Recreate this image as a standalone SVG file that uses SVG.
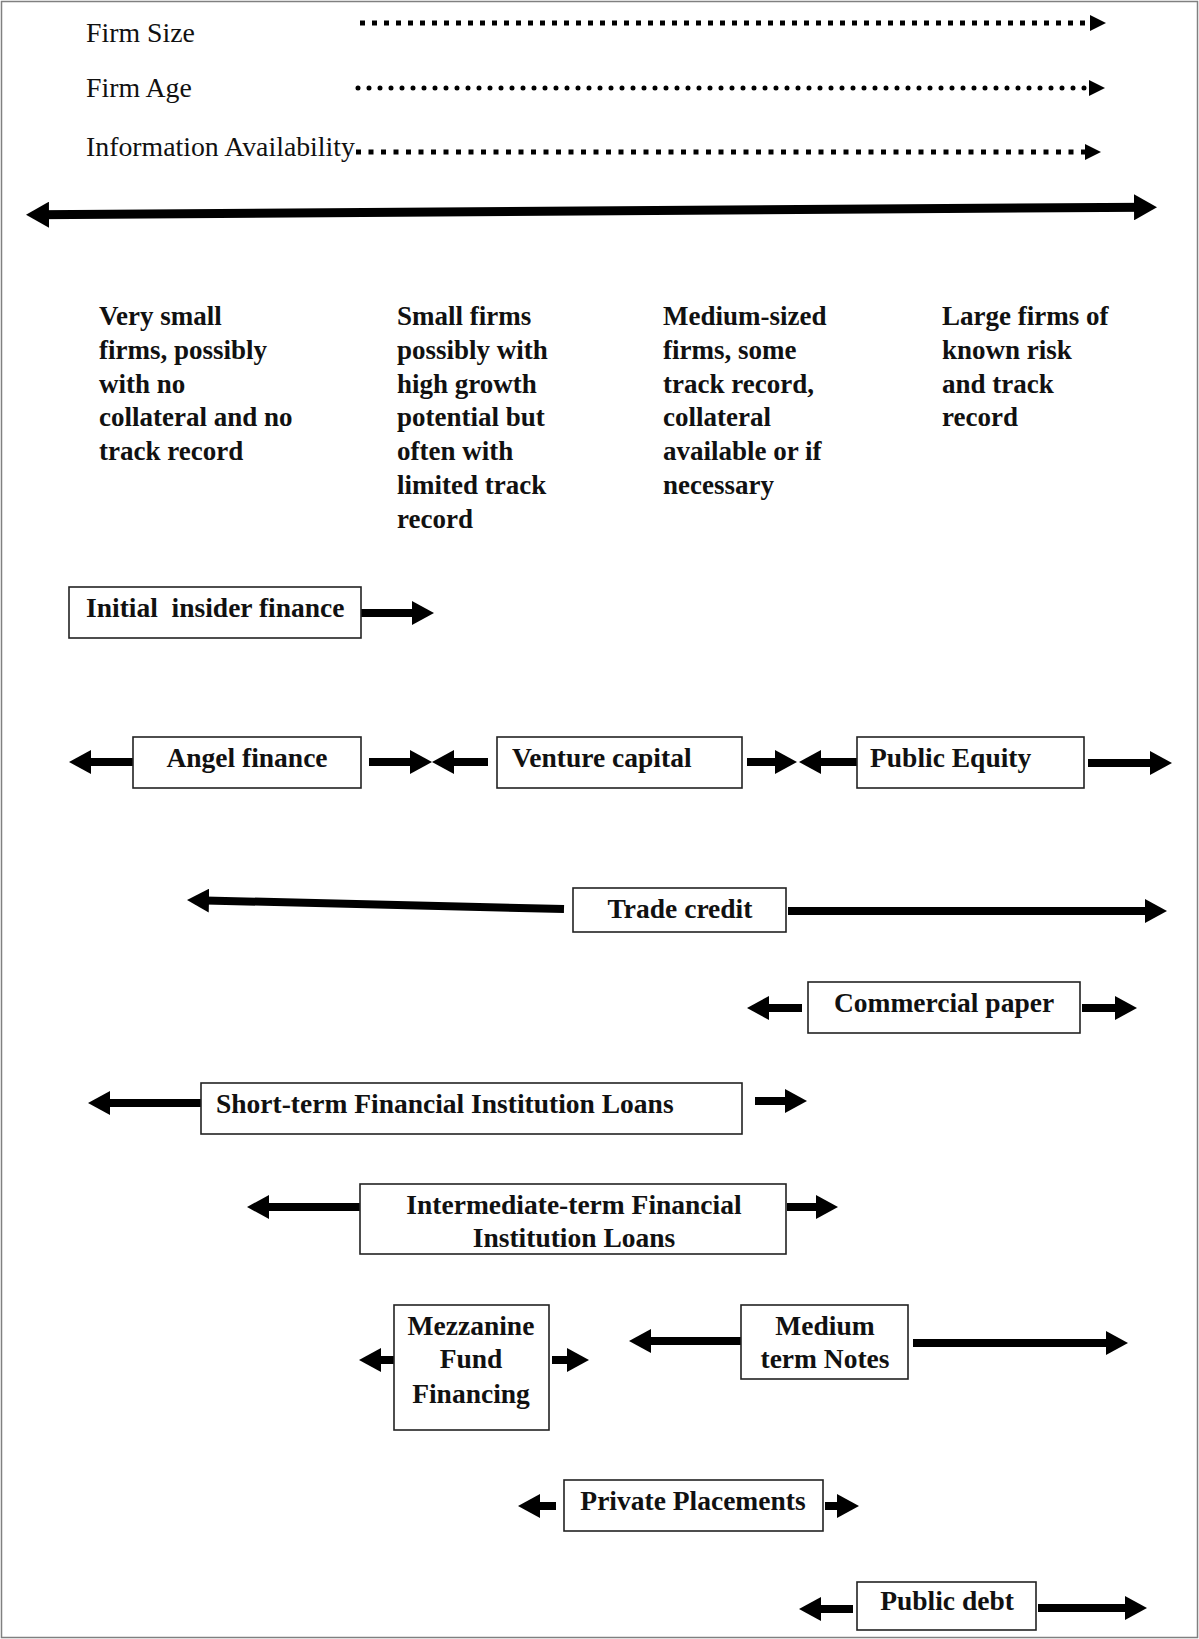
<svg xmlns="http://www.w3.org/2000/svg" width="1199" height="1639" viewBox="0 0 1199 1639">
<style>
.lbl{font-family:"Liberation Serif","Times New Roman",serif;font-size:27.8px;fill:#111}
.col{font-family:"Liberation Serif","Times New Roman",serif;font-size:27px;font-weight:bold;fill:#111}
.bt{font-family:"Liberation Serif","Times New Roman",serif;font-size:27.5px;font-weight:bold;fill:#111;text-anchor:middle}
.bts{font-family:"Liberation Serif","Times New Roman",serif;font-size:27.5px;font-weight:bold;fill:#111}
.box{fill:#fff;stroke:#222;stroke-width:1.6}
.arr{stroke:#000;stroke-width:8;fill:none;marker-end:url(#ah)}
.dot{stroke:#000;stroke-width:5;fill:none;marker-end:url(#sh)}
</style>
<defs>
<marker id="ah" markerUnits="userSpaceOnUse" markerWidth="22" markerHeight="24" refX="14" refY="12" orient="auto" viewBox="0 0 22 24">
<path d="M0,0 L22,12 L0,24 Z" fill="#000"/>
</marker>
<marker id="big" markerUnits="userSpaceOnUse" markerWidth="23" markerHeight="26" refX="13" refY="13" orient="auto-start-reverse" viewBox="0 0 23 26">
<path d="M0,0 L23,13 L0,26 Z" fill="#000"/>
</marker>
<marker id="sh" markerUnits="userSpaceOnUse" markerWidth="16" markerHeight="16" refX="10" refY="8" orient="auto" viewBox="0 0 16 16">
<path d="M0,0 L16,8 L0,16 Z" fill="#000"/>
</marker>
</defs>
<rect x="0" y="0" width="1199" height="1639" fill="#fff"/>
<rect x="1.5" y="1.5" width="1196" height="1636" fill="none" stroke="#808080" stroke-width="1.5"/>

<g id="axis-labels">
<text class="lbl" x="86" y="42">Firm Size</text>
<text class="lbl" x="86" y="97">Firm Age</text>
<text class="lbl" x="86" y="156">Information Availability</text>
</g>

<g id="columns">
<text class="col" x="99" y="325"><tspan x="99" dy="0">Very small</tspan><tspan x="99" dy="33.8">firms, possibly</tspan><tspan x="99" dy="33.8">with no</tspan><tspan x="99" dy="33.8">collateral and no</tspan><tspan x="99" dy="33.8">track record</tspan></text>
<text class="col" x="397" y="325"><tspan x="397" dy="0">Small firms</tspan><tspan x="397" dy="33.8">possibly with</tspan><tspan x="397" dy="33.8">high growth</tspan><tspan x="397" dy="33.8">potential but</tspan><tspan x="397" dy="33.8">often with</tspan><tspan x="397" dy="33.8">limited track</tspan><tspan x="397" dy="33.8">record</tspan></text>
<text class="col" x="663" y="325"><tspan x="663" dy="0">Medium-sized</tspan><tspan x="663" dy="33.8">firms, some</tspan><tspan x="663" dy="33.8">track record,</tspan><tspan x="663" dy="33.8">collateral</tspan><tspan x="663" dy="33.8">available or if</tspan><tspan x="663" dy="33.8">necessary</tspan></text>
<text class="col" x="942" y="325"><tspan x="942" dy="0">Large firms of</tspan><tspan x="942" dy="33.8">known risk</tspan><tspan x="942" dy="33.8">and track</tspan><tspan x="942" dy="33.8">record</tspan></text>
</g>

<g id="connectors">
<line class="dot" x1="360" y1="23" x2="1100" y2="23" stroke-dasharray="5 7"/>
<line class="dot" x1="358" y1="88" x2="1099" y2="88" stroke-width="4.5" stroke-linecap="round" stroke-dasharray="0 11"/>
<line class="dot" x1="356" y1="152" x2="1095" y2="152" stroke-dasharray="5 7.5"/>
<line x1="36" y1="214.8" x2="1147" y2="207.2" stroke="#000" stroke-width="9" marker-start="url(#big)" marker-end="url(#big)"/>
<line class="arr" x1="361" y1="613" x2="426" y2="613"/>
<line class="arr" x1="133" y1="762" x2="77" y2="762"/>
<line class="arr" x1="369" y1="762" x2="424" y2="762"/>
<line class="arr" x1="488" y1="762" x2="440" y2="762"/>
<line class="arr" x1="747" y1="762" x2="789" y2="762"/>
<line class="arr" x1="857" y1="762" x2="807" y2="762"/>
<line class="arr" x1="1088" y1="763" x2="1164" y2="763"/>
<line class="arr" x1="564" y1="909" x2="195" y2="900.2"/>
<line class="arr" x1="788" y1="911" x2="1159" y2="911"/>
<line class="arr" x1="802" y1="1008" x2="755" y2="1008"/>
<line class="arr" x1="1082" y1="1008" x2="1129" y2="1008"/>
<line class="arr" x1="201" y1="1103" x2="96" y2="1103"/>
<line class="arr" x1="755" y1="1101" x2="799" y2="1101"/>
<line class="arr" x1="360" y1="1207" x2="255" y2="1207"/>
<line class="arr" x1="787" y1="1207" x2="830" y2="1207"/>
<line class="arr" x1="394" y1="1360" x2="367" y2="1360"/>
<line class="arr" x1="552" y1="1360" x2="581" y2="1360"/>
<line class="arr" x1="741" y1="1341" x2="637" y2="1341"/>
<line class="arr" x1="913" y1="1343" x2="1120" y2="1343"/>
<line class="arr" x1="556" y1="1506" x2="526" y2="1506"/>
<line class="arr" x1="825" y1="1506" x2="851" y2="1506"/>
<line class="arr" x1="853" y1="1609" x2="807" y2="1609"/>
<line class="arr" x1="1038" y1="1608" x2="1139" y2="1608"/>
</g>

<g id="initial-insider-finance">
<rect class="box" x="69" y="587" width="292" height="51"/>
<text class="bts" x="86" y="617" xml:space="preserve">Initial  insider finance</text>
</g>
<g id="angel-finance">
<rect class="box" x="133" y="737" width="228" height="51"/>
<text class="bt" x="247" y="767">Angel finance</text>
</g>
<g id="venture-capital">
<rect class="box" x="497" y="737" width="245" height="51"/>
<text class="bts" x="512" y="767">Venture capital</text>
</g>
<g id="public-equity">
<rect class="box" x="857" y="737" width="227" height="51"/>
<text class="bts" x="870" y="767">Public Equity</text>
</g>
<g id="trade-credit">
<rect class="box" x="573" y="888" width="213" height="44"/>
<text class="bt" x="680" y="918">Trade credit</text>
</g>
<g id="commercial-paper">
<rect class="box" x="808" y="982" width="272" height="51"/>
<text class="bt" x="944" y="1012">Commercial paper</text>
</g>
<g id="short-term-loans">
<rect class="box" x="201" y="1083" width="541" height="51"/>
<text class="bts" x="216" y="1113">Short-term Financial Institution Loans</text>
</g>
<g id="intermediate-term-loans">
<rect class="box" x="360" y="1184" width="426" height="70"/>
<text class="bt" x="574" y="1214">Intermediate-term Financial</text>
<text class="bt" x="574" y="1247">Institution Loans</text>
</g>
<g id="mezzanine-fund-financing">
<rect class="box" x="394" y="1305" width="155" height="125"/>
<text class="bt" x="471" y="1335">Mezzanine</text>
<text class="bt" x="471" y="1368">Fund</text>
<text class="bt" x="471" y="1403">Financing</text>
</g>
<g id="medium-term-notes">
<rect class="box" x="741" y="1305" width="167" height="74"/>
<text class="bt" x="825" y="1335">Medium</text>
<text class="bt" x="825" y="1368">term Notes</text>
</g>
<g id="private-placements">
<rect class="box" x="564" y="1480" width="259" height="51"/>
<text class="bt" x="693" y="1510">Private Placements</text>
</g>
<g id="public-debt">
<rect class="box" x="857" y="1582" width="179" height="48"/>
<text class="bt" x="947" y="1610">Public debt</text>
</g>
</svg>
